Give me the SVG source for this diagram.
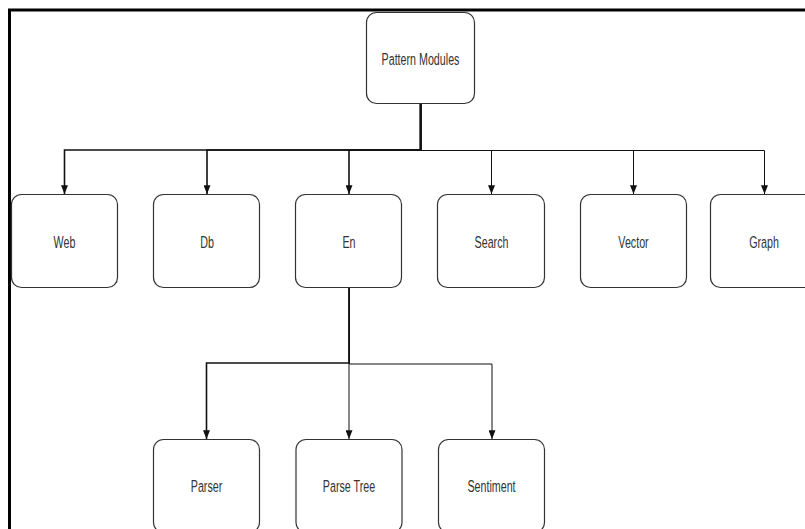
<svg xmlns="http://www.w3.org/2000/svg" width="805" height="529" viewBox="0 0 805 529">
<defs>
<style>
.box{fill:#fff;stroke:#333;stroke-width:1.2}
.lbl{font-family:"Liberation Sans",Arial,sans-serif;font-size:17px;fill:#333;text-anchor:middle}
.e{fill:none;stroke:#111;stroke-width:1}
.e2{fill:none;stroke:#111;stroke-width:1.6}
</style>
<marker id="arr" viewBox="0 0 10 8" refX="10" refY="4" markerWidth="11" markerHeight="7" markerUnits="userSpaceOnUse" orient="auto">
<path d="M0,0 L10,4 L0,8 Z" fill="#111"/>
</marker>
</defs>
<rect width="805" height="529" fill="#fff"/>
<path d="M9.5,529 V10 H805" fill="none" stroke="#000" stroke-width="3"/>
<g id="connectors">
<path class="e2" d="M420.5,103 V150 H64.5 V194" marker-end="url(#arr)"/>
<path class="e2" d="M420.5,103 V150 H207 V194" marker-end="url(#arr)"/>
<path class="e2" d="M420.5,103 V150 H349 V194" marker-end="url(#arr)"/>
<path class="e" d="M421,103 V150.5 H491.5 V194" marker-end="url(#arr)"/>
<path class="e" d="M421,103 V150.5 H633.5 V194" marker-end="url(#arr)"/>
<path class="e" d="M421,103 V150.5 H764.5 V194" marker-end="url(#arr)"/>
<path class="e2" d="M349,287 V363 H206.5 V439" marker-end="url(#arr)"/>
<path class="e" d="M349,287 V439" marker-end="url(#arr)"/>
<path class="e" d="M349.5,287 V364 H492 V439" marker-end="url(#arr)"/>
</g>
<g id="n-pattern"><rect class="box" x="366.5" y="12.5" width="108" height="91" rx="10"/><text class="lbl" transform="translate(420.5,65) scale(0.63,1)">Pattern Modules</text></g>
<g id="n-web"><rect class="box" x="11.5" y="194.5" width="106" height="93" rx="10"/><text class="lbl" transform="translate(64.5,247.5) scale(0.63,1)">Web</text></g>
<g id="n-db"><rect class="box" x="153.5" y="194.5" width="106" height="93" rx="10"/><text class="lbl" transform="translate(207,247.5) scale(0.63,1)">Db</text></g>
<g id="n-en"><rect class="box" x="295.5" y="194.5" width="106" height="93" rx="10"/><text class="lbl" transform="translate(349,247.5) scale(0.63,1)">En</text></g>
<g id="n-search"><rect class="box" x="437.5" y="194.5" width="107" height="93" rx="10"/><text class="lbl" transform="translate(491.5,247.5) scale(0.63,1)">Search</text></g>
<g id="n-vector"><rect class="box" x="580.5" y="194.5" width="106" height="93" rx="10"/><text class="lbl" transform="translate(633.5,247.5) scale(0.63,1)">Vector</text></g>
<g id="n-graph"><rect class="box" x="710.5" y="194.5" width="107" height="93" rx="10"/><text class="lbl" transform="translate(764,247.5) scale(0.63,1)">Graph</text></g>
<g id="n-parser"><rect class="box" x="153.5" y="439.5" width="106" height="93" rx="10"/><text class="lbl" transform="translate(206.5,492) scale(0.63,1)">Parser</text></g>
<g id="n-parsetree"><rect class="box" x="296" y="439.5" width="106" height="93" rx="10"/><text class="lbl" transform="translate(349,492) scale(0.63,1)">Parse Tree</text></g>
<g id="n-sentiment"><rect class="box" x="438.5" y="439.5" width="106" height="93" rx="10"/><text class="lbl" transform="translate(491.5,492) scale(0.63,1)">Sentiment</text></g>
</svg>
